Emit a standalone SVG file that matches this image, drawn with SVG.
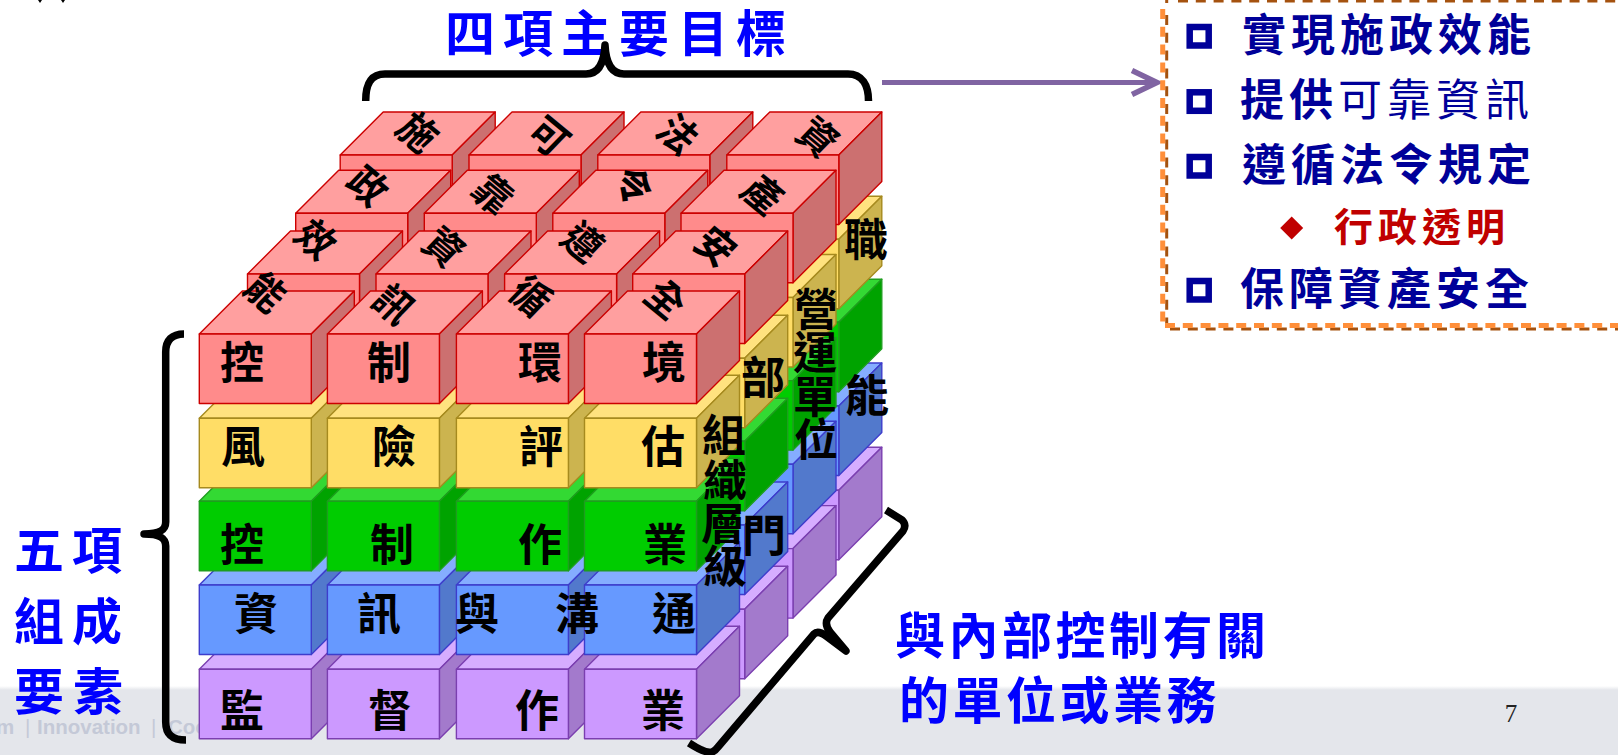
<svg xmlns="http://www.w3.org/2000/svg" xmlns:xlink="http://www.w3.org/1999/xlink" width="1618" height="755" viewBox="0 0 1618 755">
<style>
.red{--f:#FF8B8B;--t:#FF9F9F;--s:#CC7070;stroke:#CC0000}
.yel{--f:#FFDD66;--t:#FFE27F;--s:#CCB44F;stroke:#A68A1E}
.grn{--f:#00CC00;--t:#33D933;--s:#00A300;stroke:#1E9E1E}
.blu{--f:#6699FF;--t:#85ADFF;--s:#5279CC;stroke:#3D3DCC}
.pur{--f:#CC99FF;--t:#D6ADFF;--s:#A37ACC;stroke:#7B3FB0}
.fr{fill:var(--f)}.tp{fill:var(--t)}.sd{fill:var(--s)}
.cube *{stroke-width:1.4;stroke-linejoin:round}
text{font-family:"Noto Sans CJK TC","Liberation Sans",sans-serif;font-weight:700}
.lb{font-size:44px;fill:#000;text-anchor:middle}
.hd{font-size:50px;fill:#0000FF;text-anchor:middle}
.cap{font-size:50px;fill:#0000FF;letter-spacing:3.5px}
.it{font-size:44px;fill:#000099;letter-spacing:5px}
.bl{fill:none;stroke:#000099;stroke-width:6.5}
.br{fill:none;stroke:#000;stroke-width:7.5;stroke-linejoin:round}
.dO{stroke:#FF8F3A;stroke-width:5;stroke-dasharray:10 7.8;fill:none}
.dB{stroke:#A5520F;stroke-width:3;stroke-dasharray:10 7.8;fill:none}
</style>
<defs>
<g id="c"><path class="tp" d="M0 0L43 -43H155L112 0Z"/><path class="sd" d="M112 0L155 -43V26.5L112 69.5Z"/><rect class="fr" width="112" height="69.5"/></g>
<marker id="ah" markerUnits="userSpaceOnUse" markerWidth="34" markerHeight="34" refX="27" refY="15" orient="auto" viewBox="0 0 34 34"><path d="M2 3L27 15L2 27" fill="none" stroke="#8064A2" stroke-width="5.5"/></marker>
<linearGradient id="bandEdge" x1="0" y1="0" x2="0" y2="1"><stop offset="0" stop-color="#FFFFFF"/><stop offset="1" stop-color="#E4E6EB"/></linearGradient>
</defs>
<rect width="1618" height="755" fill="#FFFFFF"/>
<g id="footer">
<rect y="686" width="1618" height="4" fill="url(#bandEdge)"/>
<rect y="690" width="1618" height="65" fill="#E4E6EB"/>
<text x="0" y="734" style="font-family:'Liberation Sans',sans-serif;font-size:20.5px;font-weight:700;fill:#C4C9D7"><tspan x="-4">m</tspan><tspan x="25" font-weight="400">|</tspan><tspan x="37">Innovation</tspan><tspan x="151" font-weight="400">|</tspan><tspan x="168">Coo</tspan></text>
<text x="1511" y="722" style="font-family:'Liberation Serif',serif;font-size:25px;font-weight:400;fill:#222;text-anchor:middle">7</text>
</g>
<path id="corner-marks" d="M38 0H42L40 3ZM61 0H65L63 3Z" fill="#000"/>
<g id="cubes">
<g id="r3" class="cube">
<use href="#c" class="pur" x="340.2" y="490.3"/><use href="#c" class="blu" x="340.2" y="406"/><use href="#c" class="grn" x="340.2" y="322.3"/><use href="#c" class="yel" x="340.2" y="239.2"/><use href="#c" class="red" x="340.2" y="155"/>
<use href="#c" class="pur" x="469" y="490.3"/><use href="#c" class="blu" x="469" y="406"/><use href="#c" class="grn" x="469" y="322.3"/><use href="#c" class="yel" x="469" y="239.2"/><use href="#c" class="red" x="469" y="155"/>
<use href="#c" class="pur" x="597.8" y="490.3"/><use href="#c" class="blu" x="597.8" y="406"/><use href="#c" class="grn" x="597.8" y="322.3"/><use href="#c" class="yel" x="597.8" y="239.2"/><use href="#c" class="red" x="597.8" y="155"/>
<use href="#c" class="pur" x="726.8" y="490.3"/><use href="#c" class="blu" x="726.8" y="406"/><use href="#c" class="grn" x="726.8" y="322.3"/><use href="#c" class="yel" x="726.8" y="239.2"/><use href="#c" class="red" x="726.8" y="155"/>
</g>
<g id="r2" class="cube">
<use href="#c" class="pur" x="295.7" y="548.6"/><use href="#c" class="blu" x="295.7" y="464.3"/><use href="#c" class="grn" x="295.7" y="380.6"/><use href="#c" class="yel" x="295.7" y="297.5"/><use href="#c" class="red" x="295.7" y="213.3"/>
<use href="#c" class="pur" x="424.3" y="548.6"/><use href="#c" class="blu" x="424.3" y="464.3"/><use href="#c" class="grn" x="424.3" y="380.6"/><use href="#c" class="yel" x="424.3" y="297.5"/><use href="#c" class="red" x="424.3" y="213.3"/>
<use href="#c" class="pur" x="552.8" y="548.6"/><use href="#c" class="blu" x="552.8" y="464.3"/><use href="#c" class="grn" x="552.8" y="380.6"/><use href="#c" class="yel" x="552.8" y="297.5"/><use href="#c" class="red" x="552.8" y="213.3"/>
<use href="#c" class="pur" x="681" y="548.6"/><use href="#c" class="blu" x="681" y="464.3"/><use href="#c" class="grn" x="681" y="380.6"/><use href="#c" class="yel" x="681" y="297.5"/><use href="#c" class="red" x="681" y="213.3"/>
</g>
<g id="r1" class="cube">
<use href="#c" class="pur" x="247.5" y="609.3"/><use href="#c" class="blu" x="247.5" y="525"/><use href="#c" class="grn" x="247.5" y="441.3"/><use href="#c" class="yel" x="247.5" y="358.2"/><use href="#c" class="red" x="247.5" y="274"/>
<use href="#c" class="pur" x="376" y="609.3"/><use href="#c" class="blu" x="376" y="525"/><use href="#c" class="grn" x="376" y="441.3"/><use href="#c" class="yel" x="376" y="358.2"/><use href="#c" class="red" x="376" y="274"/>
<use href="#c" class="pur" x="504.6" y="609.3"/><use href="#c" class="blu" x="504.6" y="525"/><use href="#c" class="grn" x="504.6" y="441.3"/><use href="#c" class="yel" x="504.6" y="358.2"/><use href="#c" class="red" x="504.6" y="274"/>
<use href="#c" class="pur" x="632.7" y="609.3"/><use href="#c" class="blu" x="632.7" y="525"/><use href="#c" class="grn" x="632.7" y="441.3"/><use href="#c" class="yel" x="632.7" y="358.2"/><use href="#c" class="red" x="632.7" y="274"/>
</g>
<g id="r0" class="cube">
<use href="#c" class="pur" x="199.3" y="669.3"/><use href="#c" class="blu" x="199.3" y="585"/><use href="#c" class="grn" x="199.3" y="501.3"/><use href="#c" class="yel" x="199.3" y="418.2"/><use href="#c" class="red" x="199.3" y="334"/>
<use href="#c" class="pur" x="327.4" y="669.3"/><use href="#c" class="blu" x="327.4" y="585"/><use href="#c" class="grn" x="327.4" y="501.3"/><use href="#c" class="yel" x="327.4" y="418.2"/><use href="#c" class="red" x="327.4" y="334"/>
<use href="#c" class="pur" x="456.4" y="669.3"/><use href="#c" class="blu" x="456.4" y="585"/><use href="#c" class="grn" x="456.4" y="501.3"/><use href="#c" class="yel" x="456.4" y="418.2"/><use href="#c" class="red" x="456.4" y="334"/>
<use href="#c" class="pur" x="584.5" y="669.3"/><use href="#c" class="blu" x="584.5" y="585"/><use href="#c" class="grn" x="584.5" y="501.3"/><use href="#c" class="yel" x="584.5" y="418.2"/><use href="#c" class="red" x="584.5" y="334"/>
</g>
</g>
<g id="front-labels">
<text class="lb" x="242 389 540 664" y="379">控制環境</text>
<text class="lb" x="243 394 541 663" y="463">風險評估</text>
<text class="lb" x="242 392 540 665" y="561">控制作業</text>
<text class="lb" x="256 379 477 577 674" y="630">資訊與溝通</text>
<text class="lb" x="242 390 537 663" y="727">監督作業</text>
</g>
<g id="side-labels">
<text class="lb" x="724 725 723 725" y="452 497 540 583">組織層級</text>
<text class="lb" x="816 815 815 816" y="326 369 413 456">營運單位</text>
<text class="lb" x="763" y="394">部</text>
<text class="lb" x="764" y="552">門</text>
<text class="lb" x="866" y="256">職</text>
<text class="lb" x="867" y="412">能</text>
</g>
<g id="top-labels">
<text class="lb" transform="matrix(.64 .53 -.64 .66 417 133)" y="15">施</text>
<text class="lb" transform="matrix(.64 .53 -.64 .66 367 187)" y="15">政</text>
<text class="lb" transform="matrix(.64 .53 -.64 .66 315 240)" y="15">效</text>
<text class="lb" transform="matrix(.64 .53 -.64 .66 265 293)" y="15">能</text>
<text class="lb" transform="matrix(.64 .53 -.64 .66 548 137)" y="15">可</text>
<text class="lb" transform="matrix(.64 .53 -.64 .66 492 195)" y="15">靠</text>
<text class="lb" transform="matrix(.64 .53 -.64 .66 443 248)" y="15">資</text>
<text class="lb" transform="matrix(.64 .53 -.64 .66 393 305)" y="15">訊</text>
<text class="lb" transform="matrix(.64 .53 -.64 .66 677 135)" y="15">法</text>
<text class="lb" transform="matrix(.64 .53 -.64 .66 632 187)" y="15">令</text>
<text class="lb" transform="matrix(.64 .53 -.64 .66 582 243)" y="15">遵</text>
<text class="lb" transform="matrix(.64 .53 -.64 .66 530 297)" y="15">循</text>
<text class="lb" transform="matrix(.64 .53 -.64 .66 817 138)" y="15">資</text>
<text class="lb" transform="matrix(.64 .53 -.64 .66 762 195)" y="15">產</text>
<text class="lb" transform="matrix(.64 .53 -.64 .66 715 247)" y="15">安</text>
<text class="lb" transform="matrix(.64 .53 -.64 .66 665 300)" y="15">全</text>
</g>
<g id="goals-title"><text class="hd" x="470 528 586 644 703 761" y="52">四項主要目標</text></g>
<g id="elements-title">
<text class="hd" x="39 97" y="569">五項</text>
<text class="hd" x="39 97" y="640">組成</text>
<text class="hd" x="39 98" y="710">要素</text>
</g>
<g id="units-title">
<text class="cap" x="895" y="654">與內部控制有關</text>
<text class="cap" x="899" y="719">的單位或業務</text>
</g>
<g id="braces">
<path class="br" d="M365.7 101C365.7 85 370 74 385 74H586C597 74 604 65 605 45C606 65 613 74 624 74H848C862 74 868.5 85 868.5 101"/>
<path class="br" d="M184 334C172 334 165.7 340 165.7 352V522C165.7 530 160 534 144 534C160 534 165.7 538 165.7 546V722C165.7 734 172 740 186 740"/>
<path class="br" d="M689 743Q706 754 712 752Q715 751 718 747L814 634Q818 630 826 636L846 651L830 632Q824 624 828 618L903 531Q907 525 902 520L886 510"/>
</g>
<g id="connectors"><path id="arrow" d="M882 82.6H1157" fill="none" stroke="#8064A2" stroke-width="5" marker-end="url(#ah)"/></g>
<g id="goals-box">
<path class="dB" d="M1178 1H1618"/>
<path class="dB" d="M1166.7 0V3M1166.7 15V329"/>
<path class="dB" d="M1170 329H1618"/>
<path class="dO" d="M1162.7 9V325"/>
<path class="dO" d="M1165 325.5H1618"/>
<rect class="bl" x="1189.7" y="27" width="19" height="18.5"/>
<rect class="bl" x="1189.7" y="92.3" width="19" height="18.5"/>
<rect class="bl" x="1189.7" y="157" width="19" height="18.5"/>
<rect class="bl" x="1189.7" y="281" width="19" height="18.5"/>
<path d="M1291.7 216.5L1303.2 228L1291.7 239.5L1280.2 228Z" fill="#C00000"/>
<text class="it" x="1242" y="51">實現施政效能</text>
<text class="it" x="1240" y="116">提供<tspan font-weight="400">可靠資訊</tspan></text>
<text class="it" x="1242" y="181">遵循法令規定</text>
<text x="1334" y="241" style="font-size:39px;fill:#C00000;letter-spacing:5px">行政透明</text>
<text class="it" x="1240" y="305">保障資產安全</text>
</g>
</svg>
